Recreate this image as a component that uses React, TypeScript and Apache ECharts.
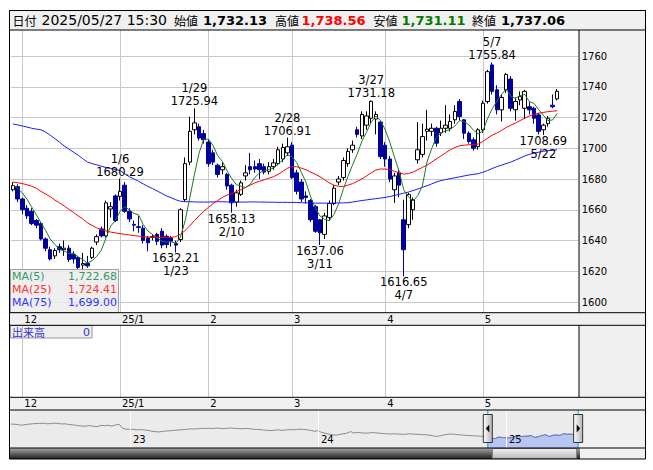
import React, { useEffect, useRef } from 'react';
import * as echarts from 'echarts';

// ---- trading days shown in the main chart ----
const dates: string[] = [
  '11/28', '11/29',
  '12/2', '12/3', '12/4', '12/5', '12/6', '12/9', '12/10', '12/11', '12/12', '12/13', '12/16', '12/17', '12/18', '12/19', '12/20', '12/23', '12/24', '12/25', '12/26', '12/27', '12/30',
  '1/6', '1/7', '1/8', '1/9', '1/10', '1/14', '1/15', '1/16', '1/17', '1/20', '1/21', '1/22', '1/23', '1/24', '1/27', '1/28', '1/29', '1/30', '1/31',
  '2/3', '2/4', '2/5', '2/6', '2/7', '2/10', '2/12', '2/13', '2/14', '2/17', '2/18', '2/19', '2/20', '2/21', '2/25', '2/26', '2/27', '2/28',
  '3/3', '3/4', '3/5', '3/6', '3/7', '3/10', '3/11', '3/12', '3/13', '3/14', '3/17', '3/18', '3/19', '3/21', '3/24', '3/25', '3/26', '3/27', '3/28', '3/31',
  '4/1', '4/2', '4/3', '4/4', '4/7', '4/8', '4/9', '4/10', '4/11', '4/14', '4/15', '4/16', '4/17', '4/18', '4/21', '4/22', '4/23', '4/24', '4/25', '4/28', '4/30',
  '5/1', '5/2', '5/7', '5/8', '5/9', '5/12', '5/13', '5/14', '5/15', '5/16', '5/19', '5/20', '5/21', '5/22', '5/23', '5/26', '5/27',
];
const futureSlots: string[] = ['5/28', '5/29', '5/30', '6/2'];

// [open, close, low, high]
const candles: number[][] = [
  [1673, 1675.7, 1672, 1678], [1675, 1667, 1665, 1676.5],
  [1667, 1660, 1657, 1668], [1661, 1656, 1654, 1663], [1659, 1651, 1650, 1661], [1653, 1650, 1648, 1654], [1651, 1641, 1640, 1652],
  [1641, 1635, 1633, 1642], [1634, 1628, 1627, 1636], [1630, 1633.5, 1628, 1635], [1636, 1634, 1632, 1638], [1634, 1635, 1630, 1640],
  [1635, 1627.6, 1626, 1637], [1631, 1628, 1625, 1633], [1629, 1622.5, 1621, 1630], [1624, 1625, 1620, 1632], [1625, 1623.5, 1622.2, 1630],
  [1629, 1635, 1628, 1636], [1639, 1642.5, 1637, 1644], [1647.5, 1643, 1642, 1649], [1643, 1664.5, 1642, 1666], [1660.5, 1662, 1655, 1665],
  [1669, 1653, 1652, 1670],
  [1668.7, 1672, 1666, 1680.29], [1676, 1659, 1658, 1678], [1659, 1654, 1652, 1661], [1650.5, 1650, 1646, 1653], [1649, 1648.5, 1645, 1656],
  [1648, 1640, 1638, 1650], [1641.7, 1638.5, 1633, 1643], [1642, 1642.5, 1640, 1644], [1644, 1639.5, 1637, 1645],
  [1646, 1637, 1635, 1648], [1642.7, 1637.4, 1635, 1644], [1641.7, 1639.5, 1636, 1643], [1638, 1637, 1632.21, 1640], [1640.6, 1660, 1639, 1661],
  [1666.6, 1690, 1665, 1694], [1691, 1711, 1689, 1720.5], [1712, 1716.5, 1709, 1725.94], [1714, 1706.6, 1705, 1716], [1709.5, 1705.5, 1703, 1712],
  [1704, 1690, 1688, 1706], [1697, 1691, 1689, 1699], [1689, 1683, 1681, 1690], [1686, 1688, 1683, 1691], [1683, 1675.5, 1673, 1684],
  [1676, 1664.5, 1658.13, 1677], [1665, 1671, 1662, 1673], [1670, 1677.5, 1669, 1679], [1682, 1684, 1679, 1689],
  [1688, 1686, 1683, 1697], [1688, 1686.5, 1684, 1692], [1690, 1686, 1680, 1693], [1688, 1684.5, 1683, 1690], [1685, 1688, 1683, 1691],
  [1688, 1690.5, 1686, 1693], [1690, 1699, 1689, 1701], [1693, 1700.5, 1691, 1703], [1697, 1701, 1695, 1706.91],
  [1702, 1681, 1680, 1704], [1684, 1672, 1670, 1686], [1678, 1667, 1665, 1680], [1669, 1668, 1664, 1672], [1666, 1653.5, 1652, 1667],
  [1662, 1646, 1645, 1663], [1653.5, 1645, 1637.06, 1654], [1644, 1656, 1641, 1658], [1655, 1664, 1653, 1666], [1664, 1674, 1663, 1676],
  [1678, 1680, 1676, 1682], [1681, 1692, 1679, 1694], [1690, 1698, 1688, 1700], [1699, 1702, 1697, 1705],
  [1712, 1709, 1707, 1714], [1708, 1722, 1706, 1724], [1715, 1721, 1712, 1724], [1719.5, 1730.5, 1716, 1731.18], [1719, 1722, 1709, 1724],
  [1717, 1694.6, 1693, 1718],
  [1702, 1693, 1688, 1704], [1693, 1680, 1678, 1695], [1673, 1682, 1664.5, 1684], [1684, 1676, 1668, 1686],
  [1653.5, 1634, 1616.65, 1666.5], [1650.3, 1669.8, 1648, 1671], [1660, 1666.5, 1653.5, 1668], [1692.5, 1699, 1690, 1717], [1696, 1707.6, 1694, 1716],
  [1711, 1712.4, 1705, 1725], [1711, 1713, 1708, 1716], [1713, 1703.3, 1701, 1714], [1710, 1713, 1708, 1718], [1713, 1715, 1710, 1728],
  [1713, 1717.4, 1711, 1722], [1718.5, 1723.9, 1716, 1728], [1730.4, 1720.6, 1718, 1732], [1718.5, 1709.8, 1706, 1719], [1709.8, 1704.4, 1703, 1711],
  [1705.5, 1700, 1698.5, 1707], [1701, 1712, 1699, 1713],
  [1712, 1729.3, 1710, 1731], [1730.4, 1749.8, 1729, 1751], [1754.2, 1737, 1735, 1755.84], [1738, 1725, 1722, 1741], [1725, 1733, 1717.4, 1735],
  [1738, 1748, 1736, 1749], [1745, 1726, 1724, 1747], [1725, 1730.4, 1718, 1733], [1731.4, 1733.6, 1728, 1737], [1726, 1737, 1719, 1738],
  [1727, 1725, 1722, 1730], [1726, 1719.5, 1716, 1727], [1721.7, 1711, 1709, 1723], [1712, 1715, 1708.69, 1716], [1716, 1719.5, 1714, 1721],
  [1728, 1727, 1726, 1735], [1732.13, 1737.06, 1731.11, 1738.56],
];

const ma5: number[] = [
  1676, 1674, 1671, 1666.9, 1661.9, 1656.8, 1651.6, 1646.6, 1641, 1637.5,
  1634.3, 1633.1, 1631.6, 1631.6, 1629.4, 1627.6, 1625.3, 1626.8, 1629.7, 1633.8,
  1641.7, 1649.4, 1653, 1658.9, 1662.1, 1660, 1657.6, 1656.7, 1650.3, 1646.2,
  1643.9, 1641.8, 1639.5, 1639, 1639.2, 1638.1, 1642.2, 1652.8, 1667.5, 1682.9,
  1696.8, 1705.9, 1705.9, 1701.9, 1695.2, 1691.5, 1685.5, 1680.4, 1676.4, 1675.3,
  1674.5, 1676.6, 1681, 1684, 1685.4, 1686.2, 1687.1, 1689.6, 1692.5, 1695.8,
  1694.4, 1690.7, 1684.3, 1677.8, 1668.3, 1661.3, 1655.9, 1653.7, 1652.9, 1657,
  1663.8, 1673.2, 1681.6, 1689.2, 1696.2, 1704.6, 1710.4, 1716.9, 1720.9, 1718,
  1712.2, 1704, 1694.3, 1685.1, 1673, 1668.4, 1665.7, 1669.1, 1675.4, 1691.1,
  1699.7, 1707.1, 1709.9, 1711.3, 1712.3, 1714.5, 1718, 1717.3, 1715.2, 1711.7,
  1709.4, 1711.1, 1719.1, 1725.6, 1730.6, 1734.8, 1738.6, 1733.8, 1732.5, 1734.2,
  1735, 1730.4, 1729.1, 1725.2, 1721.5, 1718, 1718.4, 1722.68,
];
const ma25: number[] = [
  1678, 1677.6, 1677, 1676.3, 1675.3, 1674, 1672, 1670.3, 1668.5, 1666.3,
  1664.5, 1662.5, 1660.3, 1658.3, 1656, 1654, 1651.5, 1649.8, 1648.2, 1647,
  1646.2, 1645.5, 1645, 1644.5, 1644, 1643.6, 1643.2, 1642.8, 1642.5, 1642.3,
  1642.1, 1642, 1642, 1642, 1642, 1642.5, 1644, 1646.5, 1649.5, 1653,
  1656, 1659, 1661.5, 1664, 1666, 1668, 1669.5, 1670.5, 1671.8, 1673,
  1674.5, 1676, 1677.5, 1678.5, 1679.5, 1680.5, 1681.5, 1683, 1685, 1687,
  1688, 1688, 1687, 1686, 1684.5, 1683, 1681.5, 1679.5, 1677.5, 1676,
  1675.2, 1675.2, 1676, 1677, 1678.5, 1680, 1682, 1684, 1685.8, 1686.5,
  1686.5, 1686, 1685, 1684, 1683.2, 1683.5, 1684.5, 1686, 1687.5, 1689,
  1691, 1693, 1695, 1697, 1699, 1700.5, 1701.6, 1702, 1702.3, 1702.5,
  1702.7, 1704.4, 1706.5, 1708.5, 1709.8, 1711.5, 1713.5, 1715, 1716.3, 1718,
  1719.5, 1721, 1722, 1722.8, 1723.3, 1723.8, 1724.1, 1724.41,
];
const ma75: number[] = [
  1715.8, 1715.2, 1714.5, 1713.8, 1713, 1712.5, 1712, 1710.5, 1708.5, 1706.3,
  1704, 1701.5, 1699.5, 1697.5, 1695.5, 1693.2, 1691, 1690, 1689.2, 1688.3,
  1687.5, 1686.8, 1686.2, 1685.5, 1683.5, 1681.5, 1680, 1678.5, 1676.8, 1675.2,
  1673.8, 1672.2, 1670.6, 1669, 1667.8, 1666.5, 1665.5, 1665.3, 1665.2, 1665.1,
  1665, 1665, 1665, 1665.1, 1665.2, 1665.2, 1665.1, 1665, 1665, 1665,
  1665, 1665.1, 1665.1, 1665, 1665, 1664.9, 1664.9, 1664.8, 1664.8, 1664.8,
  1664.8, 1664.7, 1664.6, 1664.5, 1664.4, 1664.3, 1664.3, 1664.3, 1664.3, 1664.4,
  1664.4, 1664.5, 1664.6, 1665, 1665.5, 1666, 1666.4, 1666.8, 1667.2, 1667.6,
  1668, 1668.6, 1669.3, 1670, 1670.8, 1671.5, 1672.5, 1673.5, 1674.6, 1675.6,
  1676.8, 1678, 1679, 1679.6, 1680.2, 1680.8, 1681.4, 1682, 1682.6, 1683,
  1683.5, 1684.3, 1685.5, 1686.8, 1688, 1689, 1690, 1691, 1692.3, 1693.6,
  1695, 1696, 1696.8, 1697.4, 1698, 1698.4, 1698.7, 1699.0,
];

const highMarks = [
  { date: '1/6', value: 1680.29 },
  { date: '1/29', value: 1725.94 },
  { date: '2/28', value: 1706.91 },
  { date: '3/27', value: 1731.18 },
  { date: '5/7', value: 1755.84 },
];
const lowMarks = [
  { date: '1/23', value: 1632.21 },
  { date: '2/10', value: 1658.13 },
  { date: '3/11', value: 1637.06 },
  { date: '4/7', value: 1616.65 },
  { date: '5/22', value: 1708.69 },
];

const monthLabels: Record<string, string> = {
  '12/2': '12', '1/6': '25/1', '2/3': '2', '3/3': '3', '4/1': '4', '5/1': '5',
};
const yTicks = { min: 1580, max: 1780, step: 20 };

// ---- navigator (weekly, mid-2022 .. May 2025) ----
const navValues: number[] = [
  1990, 1985, 1975, 1960, 1975, 1985, 1995, 2000, 2005, 2010,
  1995, 2000, 2010, 2005, 1990, 1995, 1980, 1970, 1960, 1945,
  1935, 1940, 1950, 1930, 1925, 1955, 1945, 1960, 1935, 1965,
  1985, 1880, 1860, 1860, 1855, 1845, 1850, 1840, 1830, 1810,
  1800, 1790, 1805, 1815, 1820, 1830, 1835, 1845, 1850, 1860,
  1870, 1865, 1875, 1880, 1880, 1885, 1875, 1890, 1880, 1870,
  1885, 1890, 1880, 1875, 1870, 1880, 1875, 1860, 1855, 1850,
  1840, 1830, 1825, 1835, 1845, 1830, 1840, 1850, 1845, 1850,
  1860, 1855, 1845, 1830, 1810, 1820, 1780, 1760, 1735, 1720,
  1710, 1730, 1745, 1760, 1800, 1765, 1780, 1770, 1760, 1765,
  1775, 1770, 1760, 1750, 1745, 1740, 1745, 1740, 1735, 1730,
  1745, 1740, 1735, 1730, 1725, 1720, 1710, 1690, 1680, 1700,
  1720, 1735, 1740, 1730, 1720, 1715, 1705, 1700, 1695, 1690,
  1685, 1675, 1641, 1635, 1623.5, 1662, 1653, 1648.5, 1639.5, 1660,
  1705.5, 1675.5, 1684, 1688, 1701, 1653.5, 1674, 1702, 1722, 1676,
  1707.6, 1715, 1704.4, 1749.8, 1733, 1737, 1719.5, 1737,
];
const navYearLabels: Record<number, string> = { 33: '23', 85: '24', 137: '25' };
const navWindow = { start: 132, end: 157 };

const NUM_FONT = 'DejaVu Sans';
const CJK_FONT = 'Noto Sans CJK JP';
const GRID_COLOR = '#c8c8c8';
const UP_BORDER = '#000000';
const DOWN_COLOR = '#00009c';

const fmt2 = (v: number) =>
  v.toLocaleString('en-US', { minimumFractionDigits: 2, maximumFractionDigits: 2 });

export default function App() {
  const ref = useRef<HTMLDivElement>(null);

  useEffect(() => {
    if (!ref.current) return;
    const chart = echarts.init(ref.current, null, { renderer: 'svg' });

    const cats = [...dates, ...futureSlots];
    const navCats = navValues.map((_, i) => String(i));
    const isMonthStart = (_i: number, v: string) => monthLabels[v] !== undefined;
    const isYearStart = (i: number) => navYearLabels[i] !== undefined;

    const last = candles[candles.length - 1];

    const monthAxisLabel = (margin: number) => ({
      show: true,
      interval: isMonthStart,
      formatter: (v: string) => monthLabels[v] || '',
      align: 'left',
      verticalAlign: 'middle',
      margin,
      padding: [0, 0, 0, 2],
      fontSize: 10,
      fontFamily: NUM_FONT,
      color: '#000',
    });

    const gridLeft = 10.67;
    const gridWidth = 567.5;

    const headerItems: any[] = [
      { t: '日付', x: 12.5, cjk: true },
      { t: '2025/05/27 15:30', x: 41.5, size: 14 },
      { t: '始値', x: 174, cjk: true },
      { t: fmt2(last[0]), x: 203, bold: true, color: '#000' },
      { t: '高値', x: 275, cjk: true },
      { t: fmt2(last[3]), x: 301.5, bold: true, color: '#ff0000' },
      { t: '安値', x: 373.5, cjk: true },
      { t: fmt2(last[2]), x: 401.5, bold: true, color: '#007a00' },
      { t: '終値', x: 472, cjk: true },
      { t: fmt2(last[1]), x: 501, bold: true, color: '#000' },
    ];

    const staticGraphics: any[] = [
      { id: 'rightcol', type: 'rect', z: -1, silent: true,
        shape: { x: 579, y: 30, width: 66, height: 429 }, style: { fill: '#f0f0f0' } },
      { id: 'header', type: 'rect', z: 10, silent: true,
        shape: { x: 9.5, y: 10.5, width: 636, height: 19.5 }, style: { fill: '#f0f0f0', stroke: '#000', lineWidth: 1 } },
      ...headerItems.map((h, i) => ({
        id: 'ht' + i, type: 'text', z: 11, silent: true, x: h.x, y: 20,
        style: {
          text: h.t,
          fill: h.color || '#000',
          fontFamily: h.cjk ? CJK_FONT : NUM_FONT,
          fontSize: h.cjk ? 12 : h.size || 13,
          fontWeight: h.bold ? 'bold' : 'normal',
          verticalAlign: 'middle',
          align: 'left',
        },
      })),
      { id: 'strip1', type: 'rect', z: 10, silent: true,
        shape: { x: 9.5, y: 312.7, width: 636, height: 12.6 }, style: { fill: '#f0f0f0' } },
      { id: 'strip2', type: 'rect', z: 10, silent: true,
        shape: { x: 9.5, y: 397.3, width: 636, height: 12.7 }, style: { fill: '#f0f0f0' } },
      { id: 'scroll', type: 'rect', z: 10, silent: true,
        shape: { x: 10, y: 448, width: 570, height: 11 },
        style: { fill: new echarts.graphic.LinearGradient(0, 0, 0, 1, [
          { offset: 0, color: '#a8a8a8' }, { offset: 1, color: '#1e1e1e' }]) } },
      ...[312.7, 325.3, 397.3, 410, 448].map((y, i) => ({
        id: 'hl' + i, type: 'line', z: 30, silent: true,
        shape: { x1: 9.5, y1: y, x2: 645.5, y2: y }, style: { stroke: '#000', lineWidth: 1 } })),
      { id: 'vl1', type: 'line', z: 30, silent: true,
        shape: { x1: 579, y1: 30, x2: 579, y2: 312.7 }, style: { stroke: '#000', lineWidth: 1 } },
      { id: 'vl2', type: 'line', z: 30, silent: true,
        shape: { x1: 579, y1: 325.3, x2: 579, y2: 397.3 }, style: { stroke: '#000', lineWidth: 1 } },
      { id: 'frame', type: 'rect', z: 31, silent: true,
        shape: { x: 9.5, y: 10.5, width: 636, height: 448.5 }, style: { fill: 'none', stroke: '#000', lineWidth: 1 } },
      { id: 'malegend', type: 'rect', z: 12, silent: true,
        shape: { x: 10.5, y: 269.5, width: 108, height: 43 },
        style: { fill: 'rgba(236,236,236,0.85)', stroke: '#a0a0a0', lineWidth: 1 } },
      ...[
        { name: 'MA(5)', v: ma5[ma5.length - 1], c: '#339966', y: 276 },
        { name: 'MA(25)', v: ma25[ma25.length - 1], c: '#ff3333', y: 289.4 },
        { name: 'MA(75)', v: ma75[ma75.length - 1], c: '#3333ff', y: 302.8 },
      ].flatMap((m, i) => [
        { id: 'mln' + i, type: 'text', z: 13, silent: true, x: 12, y: m.y,
          style: { text: m.name, fill: m.c, fontFamily: NUM_FONT, fontSize: 11, verticalAlign: 'middle', align: 'left' } },
        { id: 'mlv' + i, type: 'text', z: 13, silent: true, x: 117, y: m.y,
          style: { text: fmt2(m.v), fill: m.c, fontFamily: NUM_FONT, fontSize: 11, verticalAlign: 'middle', align: 'right' } },
      ]),
      { id: 'volbox', type: 'rect', z: 12, silent: true,
        shape: { x: 10.5, y: 325.5, width: 81.5, height: 12.5 },
        style: { fill: '#eeeeee', stroke: '#999', lineWidth: 1 } },
      { id: 'volt', type: 'text', z: 13, silent: true, x: 12, y: 332,
        style: { text: '出来高', fill: '#3333cc', fontFamily: CJK_FONT, fontSize: 11, verticalAlign: 'middle', align: 'left' } },
      { id: 'volv', type: 'text', z: 13, silent: true, x: 90, y: 332,
        style: { text: '0', fill: '#3333cc', fontFamily: NUM_FONT, fontSize: 11, verticalAlign: 'middle', align: 'right' } },
    ];

    const markData = [
      ...highMarks.map((m) => ({
        coord: [m.date, m.value],
        label: { position: 'top', distance: 0, formatter: `${m.date}\n${m.value.toFixed(2)}` },
      })),
      ...lowMarks.map((m) => ({
        coord: [m.date, m.value],
        label: { position: 'bottom', distance: -1, formatter: `${m.value.toFixed(2)}\n${m.date}` },
      })),
    ];

    const option: any = {
      animation: false,
      backgroundColor: '#ffffff',
      textStyle: { fontFamily: NUM_FONT },
      grid: [
        { left: gridLeft, width: gridWidth, top: 25.25, height: 307.5, show: true, backgroundColor: '#fff', borderWidth: 0 },
        { left: gridLeft, width: gridWidth, top: 325.3, height: 72, show: true, backgroundColor: '#fff', borderWidth: 0 },
        { left: gridLeft, width: gridWidth, top: 410, height: 38, show: true, backgroundColor: '#ebebeb', borderWidth: 0 },
      ],
      xAxis: [
        {
          type: 'category', gridIndex: 0, data: cats, boundaryGap: true,
          axisLine: { show: false }, axisTick: { show: false }, axisLabel: { show: false },
          splitLine: { show: true, interval: isMonthStart, alignWithLabel: true, lineStyle: { color: GRID_COLOR, width: 1 } },
        },
        {
          type: 'category', gridIndex: 1, position: 'top', data: cats, boundaryGap: true, z: 20,
          axisLine: { show: false }, axisTick: { show: false },
          axisLabel: monthAxisLabel(6.3),
          splitLine: { show: true, interval: isMonthStart, alignWithLabel: true, lineStyle: { color: GRID_COLOR, width: 1 } },
        },
        {
          type: 'category', gridIndex: 1, position: 'bottom', data: cats, boundaryGap: true, z: 20,
          axisLine: { show: false }, axisTick: { show: false },
          axisLabel: monthAxisLabel(6.3),
          splitLine: { show: false },
        },
        {
          type: 'category', gridIndex: 2, data: navCats, boundaryGap: false, z: 20,
          axisLine: { show: false }, axisTick: { show: false },
          axisLabel: {
            show: true, inside: true, interval: isYearStart,
            formatter: (_v: string, i: number) => navYearLabels[i] || '',
            align: 'left', margin: 4, padding: [0, 0, 0, 3], fontSize: 10, fontFamily: NUM_FONT, color: '#000',
          },
          splitLine: { show: true, interval: isYearStart, lineStyle: { color: '#ffffff', width: 1 } },
        },
      ],
      yAxis: [
        {
          type: 'value', gridIndex: 0, position: 'right', min: yTicks.min, max: yTicks.max, interval: yTicks.step,
          axisLine: { show: false }, axisTick: { show: false },
          axisLabel: {
            margin: 3.5, fontSize: 10, fontFamily: NUM_FONT, color: '#000',
            formatter: (v: number) => (v <= yTicks.min || v >= yTicks.max ? '' : String(v)),
          },
          splitLine: { show: true, showMinLine: false, showMaxLine: false, lineStyle: { color: GRID_COLOR, width: 1 } },
        },
        { type: 'value', gridIndex: 1, show: false, min: 0, max: 1, splitLine: { show: false } },
        { type: 'value', gridIndex: 2, show: false, min: 1390, max: 2340, splitLine: { show: false } },
      ],
      series: [
        {
          name: 'price', type: 'candlestick', xAxisIndex: 0, yAxisIndex: 0, barWidth: 4, z: 2,
          data: candles.map((c) => [c[0], c[1], c[2], c[3]]),
          itemStyle: { color: '#ffffff', color0: DOWN_COLOR, borderColor: UP_BORDER, borderColor0: DOWN_COLOR, borderWidth: 1 },
          markPoint: {
            symbol: 'circle', symbolSize: 1, silent: true,
            itemStyle: { color: 'rgba(0,0,0,0)' },
            label: { show: true, fontSize: 11.5, fontFamily: NUM_FONT, color: '#000', lineHeight: 13 },
            data: markData,
          },
        },
        { name: 'MA(75)', type: 'line', xAxisIndex: 0, yAxisIndex: 0, data: ma75, symbol: 'none', z: 3,
          lineStyle: { color: '#1a1aff', width: 1 } },
        { name: 'MA(25)', type: 'line', xAxisIndex: 0, yAxisIndex: 0, data: ma25, symbol: 'none', z: 3,
          lineStyle: { color: '#ff0000', width: 1 } },
        { name: 'MA(5)', type: 'line', xAxisIndex: 0, yAxisIndex: 0, data: ma5, symbol: 'none', z: 3,
          lineStyle: { color: '#1f7a1f', width: 1 } },
        { name: '出来高', type: 'bar', xAxisIndex: 1, yAxisIndex: 1, data: [] },
        { name: 'nav', type: 'line', xAxisIndex: 3, yAxisIndex: 2, data: navValues, symbol: 'none', silent: true,
          lineStyle: { color: '#8a8a8a', width: 1 } },
        { name: 'navSel', type: 'line', xAxisIndex: 3, yAxisIndex: 2, symbol: 'none', silent: true,
          data: navValues.map((v, i) => (i >= navWindow.start && i <= navWindow.end ? v : null)),
          lineStyle: { color: '#6f7fc8', width: 1 },
          areaStyle: { color: '#b7c5f3', opacity: 1 } },
      ],
      graphic: staticGraphics,
    };

    chart.setOption(option);

    const lx = chart.convertToPixel({ xAxisIndex: 3 }, navCats[navWindow.start]) as number;
    const rx = chart.convertToPixel({ xAxisIndex: 3 }, navCats[navWindow.end]) as number;
    const handleFill = new echarts.graphic.LinearGradient(0, 0, 1, 0, [
      { offset: 0, color: '#ffffff' }, { offset: 1, color: '#b5b5b5' }]);
    const handle = (id: string, x: number, dir: number) => [
      { id: id + 'ln', type: 'line', z: 25, silent: true,
        shape: { x1: x, y1: 410, x2: x, y2: 448 }, style: { stroke: '#1aa0e0', lineWidth: 1 } },
      { id: id + 'rc', type: 'rect', z: 26, silent: true,
        shape: { x: x - 4.5, y: 414.5, width: 9, height: 28 },
        style: { fill: handleFill, stroke: '#333', lineWidth: 1 } },
      { id: id + 'tr', type: 'polygon', z: 27, silent: true,
        shape: { points: dir < 0
          ? [[x + 1.5, 424.5], [x + 1.5, 432.5], [x - 2, 428.5]]
          : [[x - 1.5, 424.5], [x - 1.5, 432.5], [x + 2, 428.5]] },
        style: { fill: '#000' } },
    ];
    chart.setOption({
      graphic: [
        ...staticGraphics,
        { id: 'thumb', type: 'rect', z: 11, silent: true,
          shape: { x: lx + 4.5, y: 448.5, width: rx - lx - 6, height: 10 },
          style: { fill: new echarts.graphic.LinearGradient(0, 0, 0, 1, [
            { offset: 0, color: '#f4f4f4' }, { offset: 1, color: '#b9b9b9' }]), stroke: '#777', lineWidth: 1 } },
        ...handle('hl', lx, -1),
        ...handle('hr', rx, 1),
      ],
    });

    return () => chart.dispose();
  }, []);

  return (
    <div
      ref={ref}
      style={{ position: 'absolute', left: 0, top: 0, width: 653, height: 470 }}
    />
  );
}
